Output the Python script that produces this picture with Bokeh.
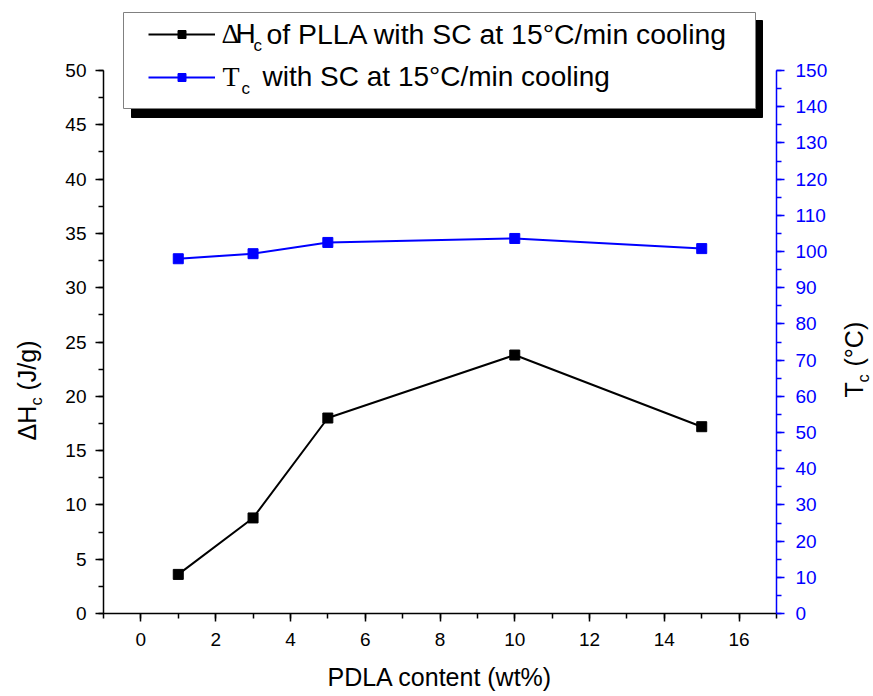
import math
from bokeh.plotting import figure
from bokeh.layouts import row
from bokeh.models import (Range1d, LinearAxis, SingleIntervalTicker, Legend,
                          LegendItem, Label, BoxAnnotation)
from bokeh.embed import file_html
from bokeh.resources import INLINE

# ---- data ----
pdla = [1, 3, 5, 10, 15]                 # PDLA content (wt%)
dhc = [3.6, 8.8, 18.0, 23.8, 17.2]       # ΔHc (J/g), left axis
tc = [98.0, 99.4, 102.5, 103.6, 100.8]   # Tc (°C), right axis

# ---- layout (page pixels) ----
TOTAL_W, H = 873, 696
WL, WR = 48, 36                # side strips holding the rotated axis titles
WM = TOTAL_W - WL - WR         # main figure width
FL, FR, FT, FB = 103, 776, 0, 613   # frame edges in page pixels
ML, MR, MB = FL - WL, (TOTAL_W - WR) - FR, H - FB
FW, FH = FR - FL, FB - FT
X0, X1 = -1, 17
Y1 = FH * 50 / 543.0
TC1 = Y1 * 3

SANS = "Liberation Sans"
SERIF = "Liberation Serif"
R = math.pi / 2
BASE_SHIFT = 0.35   # rendered baseline sits this many em below the anchor


def dx(px):
    return X0 + (px - FL) * (X1 - X0) / FW


def dy(py):
    return (FB - py) * Y1 / FH


p = figure(width=WM, height=H, output_backend="svg", toolbar_location=None,
           x_range=Range1d(X0, X1), y_range=Range1d(0, Y1),
           min_border_left=ML, min_border_right=MR, min_border_top=FT,
           min_border_bottom=MB)
p.extra_y_ranges = {"tc": Range1d(0, TC1)}
p.xgrid.visible = False
p.ygrid.visible = False
p.outline_line_color = None
p.background_fill_color = "white"
p.border_fill_color = "white"

# ---- axes ----
xa = p.xaxis[0]
xa.ticker = SingleIntervalTicker(interval=2, num_minor_ticks=2)
xa.axis_label = "PDLA content (wt%)"
xa.axis_label_text_font = SANS
xa.axis_label_text_font_size = "25px"
xa.axis_label_text_font_style = "normal"
xa.axis_label_text_color = "black"
xa.axis_label_standoff = 14
ya = p.yaxis[0]
ya.ticker = SingleIntervalTicker(interval=5, num_minor_ticks=2)
ya.bounds = (0, 50)
ya.axis_label = None

ra = LinearAxis(y_range_name="tc",
                ticker=SingleIntervalTicker(interval=10, num_minor_ticks=2),
                bounds=(0, 150))
p.add_layout(ra, "right")

for ax, col in ((xa, "black"), (ya, "black"), (ra, "#0000FF")):
    ax.axis_line_color = col
    ax.axis_line_width = 1.5
    ax.major_tick_line_color = col
    ax.minor_tick_line_color = col
    ax.major_tick_line_width = 1.5
    ax.minor_tick_line_width = 1.5
    ax.major_tick_in = 0
    ax.major_tick_out = 8
    ax.minor_tick_in = 0
    ax.minor_tick_out = 5
    ax.major_label_text_font = SANS
    ax.major_label_text_font_size = "19px"
    ax.major_label_text_color = col
ya.major_label_standoff = 9
ra.major_label_standoff = 11
xa.major_label_standoff = 11

# ---- series ----
ln_h = p.line(pdla, dhc, line_color="black", line_width=2)
sc_h = p.scatter(pdla, dhc, marker="square", size=10, fill_color="black",
                 line_color="black")
ln_t = p.line(pdla, tc, line_color="#0000FF", line_width=2, y_range_name="tc")
sc_t = p.scatter(pdla, tc, marker="square", size=10, fill_color="#0000FF",
                 line_color="#0000FF", y_range_name="tc")

# ---- legend frame with shadow ----
p.add_layout(BoxAnnotation(left=dx(131), right=dx(762), top=dy(20), bottom=dy(117),
                           fill_color="black", fill_alpha=1, line_color="black",
                           line_alpha=1))
p.add_layout(BoxAnnotation(left=dx(123), right=dx(755), top=dy(12), bottom=dy(108),
                           fill_color="white", fill_alpha=1, line_color="#808080",
                           line_width=1, line_alpha=1))

legend = Legend(items=[LegendItem(label=" ", renderers=[ln_h, sc_h]),
                       LegendItem(label=" ", renderers=[ln_t, sc_t])],
                location=(148 - FL, FB - 87), orientation="vertical", padding=0,
                spacing=23, glyph_width=67, glyph_height=20, label_height=20,
                label_width=0, label_standoff=0, label_text_font_size="10px",
                border_line_color=None, background_fill_alpha=0, margin=0)
p.add_layout(legend)


def lab(fig, fx, fy, px, py, text, size, font=SANS, angle=0.0):
    """px, py: wanted start of the text baseline in page pixels."""
    shift = BASE_SHIFT * size
    if angle:
        px -= shift
    else:
        py -= shift
    fig.add_layout(Label(x=fx(px), y=fy(py), text=text, text_font=font,
                         text_font_size="%gpx" % size, text_color="black",
                         angle=angle, text_align="left",
                         text_baseline="alphabetic"))


# legend texts
lab(p, dx, dy, 221, 43, "Δ", 28, font=SERIF)
lab(p, dx, dy, 235, 43, "H", 28)
lab(p, dx, dy, 253, 51, "c", 17)
lab(p, dx, dy, 266, 43, "of PLLA with SC at 15°C/min cooling", 28.4)
lab(p, dx, dy, 222, 86, "T", 28, font=SERIF)
lab(p, dx, dy, 241, 94, "c", 17)
lab(p, dx, dy, 262, 86, "with SC at 15°C/min cooling", 28)


# ---- side strips (no axes) for the rotated axis titles ----
def strip(w):
    f = figure(width=w, height=H, output_backend="svg", toolbar_location=None,
               x_range=Range1d(0, w), y_range=Range1d(0, FB),
               x_axis_type=None, y_axis_type=None,
               min_border_left=0, min_border_right=0, min_border_top=0,
               min_border_bottom=MB)
    f.xgrid.visible = False
    f.ygrid.visible = False
    f.outline_line_color = None
    f.background_fill_color = "white"
    f.border_fill_color = "white"
    return f


lf = strip(WL)
rf = strip(WR)


def lx(px):
    return px


def rx(px):
    return px - (TOTAL_W - WR)


def sy(py):
    return FB - py


lab(lf, lx, sy, 35, 440, "ΔH", 25, angle=R)
lab(lf, lx, sy, 41, 405, "c", 16.5, angle=R)
lab(lf, lx, sy, 35, 390, "(J/g)", 25, angle=R)
lab(rf, rx, sy, 862, 397, "T", 25, angle=R)
lab(rf, rx, sy, 868, 382, "c", 16.5, angle=R)
lab(rf, rx, sy, 862, 366, "(°C)", 25, angle=R)

layout = row(lf, p, rf)
open("out.html", "w").write(file_html(layout, INLINE))
